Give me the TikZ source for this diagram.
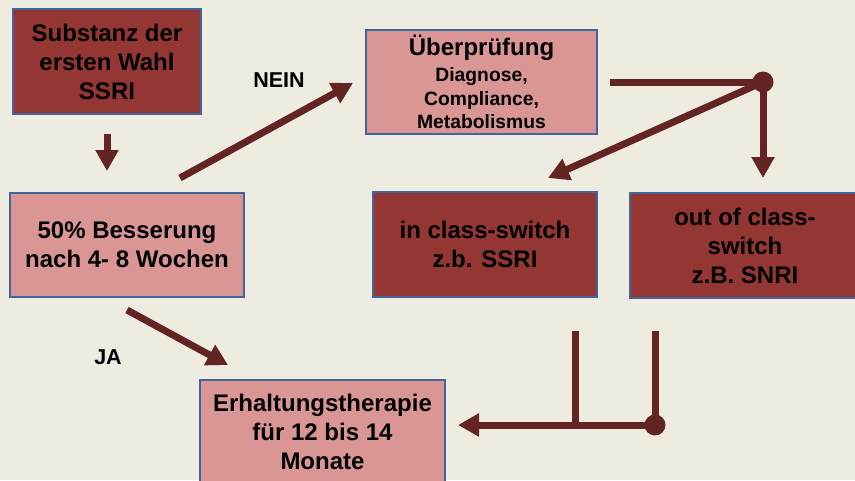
\documentclass[tikz,border=0pt]{standalone}
\usepackage{fontspec}
\setmainfont{Liberation Sans}
\usetikzlibrary{arrows.meta}
\definecolor{bg}{HTML}{EEECE1}
\definecolor{darkred}{HTML}{943634}
\definecolor{pinkred}{HTML}{D99694}
\definecolor{edgeblue}{HTML}{3F659A}
\definecolor{arr}{HTML}{632523}
\begin{document}
\begin{tikzpicture}[x=1pt,y=-1pt,
  box/.style={draw=edgeblue, line width=2pt, align=center, inner sep=0pt,
    font=\fontsize{24}{29}\selectfont\bfseries},
  darkbox/.style={box, fill=darkred},
  pinkbox/.style={box, fill=pinkred},
  conn/.style={draw=arr, line width=7pt},
  arrowline/.style={conn, -{Triangle[length=21pt,width=22pt]}},
  dotnode/.style={circle, fill=arr, minimum size=21pt, inner sep=0pt},
  lbl/.style={font=\fontsize{21.5}{26}\selectfont\bfseries, inner sep=0pt}]
\fill[bg] (0,0) rectangle (855,480);
\clip (0,0) rectangle (855,480);
\useasboundingbox (0,0) rectangle (855,480);

% boxes
\node[darkbox, minimum width=188pt, minimum height=105pt] (sub) at (107,61.5)
  {Substanz der\\ersten Wahl\\SSRI};
\node[pinkbox, minimum width=234pt, minimum height=104pt] (bes) at (127,245)
  {50\% Besserung\\nach 4- 8 Wochen};
\node[pinkbox, minimum width=231pt, minimum height=104pt,
  font=\fontsize{19.3}{23.5}\selectfont\bfseries] (ueb) at (481.5,82)
  {{\fontsize{24}{24}\selectfont Überprüfung}\\[2.5pt]Diagnose,\\Compliance,\\Metabolismus};
\node[darkbox, minimum width=224pt, minimum height=105pt] (ins) at (485,244.5)
  {in class-switch\\z.b. SSRI};
\node[darkbox, minimum width=230pt, minimum height=105pt] (out) at (745,245.5)
  {out of class-\\switch\\z.B. SNRI};
\node[pinkbox, minimum width=245pt, minimum height=103pt] (erh) at (322.5,431.5)
  {Erhaltungstherapie\\für 12 bis 14\\Monate};

% labels
\node[lbl] (nein) at (279,80) {NEIN};
\node[lbl] (ja) at (108,357) {JA};

% coordinates
\coordinate (a1s) at (107,134);
\coordinate (a1e) at (107,171);
\coordinate (a2s) at (180,178);
\coordinate (a2e) at (353,83);
\coordinate (h1s) at (610,82);
\node[dotnode] (d1) at (763,82) {};
\coordinate (a4e) at (548,178);
\coordinate (a5e) at (763,178);
\coordinate (a6s) at (127,310);
\coordinate (a6e) at (228,365);
\coordinate (v1s) at (575,331);
\coordinate (v1e) at (575,425);
\coordinate (v2s) at (655,331);
\node[dotnode] (d2) at (655,425) {};
\coordinate (a7e) at (458,425);

% connectors
\draw[arrowline] (a1s) -- (a1e);
\draw[arrowline] (a2s) -- (a2e);
\draw[conn] (h1s) -- (d1.center);
\draw[arrowline] (d1.center) -- (a4e);
\draw[arrowline] (d1.center) -- (a5e);
\draw[arrowline] (a6s) -- (a6e);
\draw[conn] (v1s) -- (v1e);
\draw[conn] (v2s) -- (d2.center);
\draw[arrowline] (d2.center) -- (a7e);
\end{tikzpicture}
\end{document}
